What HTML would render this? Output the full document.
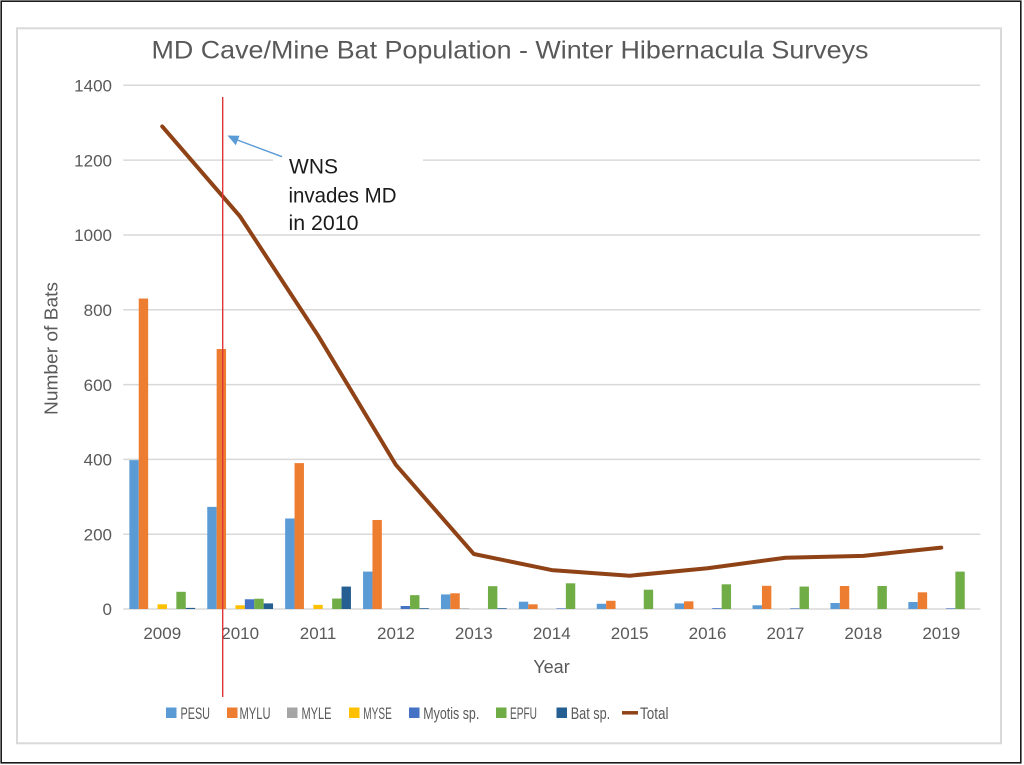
<!DOCTYPE html>
<html>
<head>
<meta charset="utf-8">
<style>
html,body{margin:0;padding:0;background:#fff;}
svg{display:block;}
text{font-family:"Liberation Sans",Arial,sans-serif;}
</style>
</head>
<body>
<svg width="1024" height="765" viewBox="0 0 1024 765" xmlns="http://www.w3.org/2000/svg">
<rect x="0" y="0" width="1024" height="765" fill="#fff"/>
<!-- outer border -->
<rect x="1.2" y="1.2" width="1019.6" height="761.6" fill="none" stroke="#1a1a1a" stroke-width="1.6"/>
<!-- inner chart box -->
<rect x="17" y="28.3" width="984" height="715" fill="none" stroke="#d9d9d9" stroke-width="2"/>

<!-- title -->
<text x="151.5" y="58.3" font-size="25" fill="#595959" textLength="717" lengthAdjust="spacingAndGlyphs">MD Cave/Mine Bat Population - Winter Hibernacula Surveys</text>

<!-- gridlines -->
<g stroke="#d9d9d9" stroke-width="1.5">
<line x1="123.3" y1="85.3" x2="980.3" y2="85.3"/>
<line x1="123.3" y1="160.1" x2="980.3" y2="160.1"/>
<line x1="123.3" y1="235" x2="980.3" y2="235"/>
<line x1="123.3" y1="309.8" x2="980.3" y2="309.8"/>
<line x1="123.3" y1="384.6" x2="980.3" y2="384.6"/>
<line x1="123.3" y1="459.4" x2="980.3" y2="459.4"/>
<line x1="123.3" y1="534.2" x2="980.3" y2="534.2"/>
<line x1="123.3" y1="609" x2="980.3" y2="609"/>
</g>

<!-- y tick labels -->
<g font-size="17" fill="#595959" text-anchor="end">
<text x="112" y="91.5">1400</text>
<text x="112" y="166.3">1200</text>
<text x="112" y="241.2">1000</text>
<text x="112" y="316">800</text>
<text x="112" y="390.8">600</text>
<text x="112" y="465.6">400</text>
<text x="112" y="540.4">200</text>
<text x="112" y="615.2">0</text>
</g>

<!-- y axis title -->
<text transform="translate(57.5,348.5) rotate(-90)" x="0" y="0" font-size="18" fill="#595959" text-anchor="middle" textLength="133" lengthAdjust="spacingAndGlyphs">Number of Bats</text>

<!-- x tick labels -->
<g font-size="17" fill="#595959" text-anchor="middle">
<text x="162.25" y="639">2009</text>
<text x="240.15" y="639">2010</text>
<text x="318.05" y="639">2011</text>
<text x="395.95" y="639">2012</text>
<text x="473.85" y="639">2013</text>
<text x="551.75" y="639">2014</text>
<text x="629.65" y="639">2015</text>
<text x="707.55" y="639">2016</text>
<text x="785.45" y="639">2017</text>
<text x="863.35" y="639">2018</text>
<text x="941.25" y="639">2019</text>
</g>
<text x="551.5" y="673" font-size="18" fill="#595959" text-anchor="middle">Year</text>

<!-- bars -->
<g fill="#5b9bd5">
<rect x="129.35" y="460.12" width="9.4" height="148.88"/>
<rect x="207.25" y="506.88" width="9.4" height="102.12"/>
<rect x="285.15" y="518.48" width="9.4" height="90.52"/>
<rect x="363.05" y="571.59" width="9.4" height="37.41"/>
<rect x="440.95" y="594.41" width="9.4" height="14.59"/>
<rect x="518.85" y="601.71" width="9.4" height="7.29"/>
<rect x="596.75" y="603.76" width="9.4" height="5.24"/>
<rect x="674.65" y="603.39" width="9.4" height="5.61"/>
<rect x="752.55" y="605.26" width="9.4" height="3.74"/>
<rect x="830.45" y="603.01" width="9.4" height="5.99"/>
<rect x="908.35" y="602.0" width="9.4" height="7.0"/>
</g>
<g fill="#ed7d31">
<rect x="138.75" y="298.52" width="9.4" height="310.48"/>
<rect x="216.65" y="349.02" width="9.4" height="259.98"/>
<rect x="294.55" y="463.11" width="9.4" height="145.89"/>
<rect x="372.45" y="519.97" width="9.4" height="89.03"/>
<rect x="450.35" y="593.29" width="9.4" height="15.71"/>
<rect x="528.25" y="604.32" width="9.4" height="4.68"/>
<rect x="606.15" y="600.77" width="9.4" height="8.23"/>
<rect x="684.05" y="601.33" width="9.4" height="7.67"/>
<rect x="761.95" y="585.81" width="9.4" height="23.19"/>
<rect x="839.85" y="585.99" width="9.4" height="23.01"/>
<rect x="917.75" y="592.32" width="9.4" height="16.68"/>
</g>
<g fill="#a5a5a5">
<rect x="459.75" y="608.4" width="9.4" height="0.6"/>
</g>
<g fill="#ffc000">
<rect x="157.55" y="604.32" width="9.4" height="4.68"/>
<rect x="235.45" y="605.26" width="9.4" height="3.74"/>
<rect x="313.35" y="604.89" width="9.4" height="4.11"/>
</g>
<g fill="#4472c4">
<rect x="244.85" y="599.27" width="9.4" height="9.73"/>
<rect x="400.65" y="606.01" width="9.4" height="2.99"/>
<rect x="556.45" y="608.4" width="9.4" height="0.6"/>
<rect x="712.25" y="608.2" width="9.4" height="0.8"/>
<rect x="790.15" y="608.4" width="9.4" height="0.6"/>
<rect x="945.95" y="608.4" width="9.4" height="0.6"/>
</g>
<g fill="#70ad47">
<rect x="176.35" y="591.79" width="9.4" height="17.21"/>
<rect x="254.25" y="598.71" width="9.4" height="10.29"/>
<rect x="332.15" y="598.53" width="9.4" height="10.47"/>
<rect x="410.05" y="595.16" width="9.4" height="13.84"/>
<rect x="487.95" y="586.18" width="9.4" height="22.82"/>
<rect x="565.85" y="583.30" width="9.4" height="25.70"/>
<rect x="643.75" y="589.70" width="9.4" height="19.30"/>
<rect x="721.65" y="584.31" width="9.4" height="24.69"/>
<rect x="799.55" y="586.56" width="9.4" height="22.44"/>
<rect x="877.45" y="585.99" width="9.4" height="23.01"/>
<rect x="955.35" y="571.59" width="9.4" height="37.41"/>
</g>
<g fill="#255e91">
<rect x="185.75" y="607.88" width="9.4" height="1.12"/>
<rect x="263.65" y="603.39" width="9.4" height="5.61"/>
<rect x="341.55" y="586.56" width="9.4" height="22.44"/>
<rect x="419.45" y="608.25" width="9.4" height="0.75"/>
<rect x="497.35" y="608.25" width="9.4" height="0.75"/>
</g>

<!-- Total line -->
<polyline fill="none" stroke="#8f4216" stroke-width="4" stroke-linejoin="round" stroke-linecap="round"
 points="162.25,126.45 240.15,216.6 318.05,335.55 395.95,464.98 473.85,554.01 551.75,570.1 629.65,575.71 707.55,568.23 785.45,557.75 863.35,555.88 941.25,547.65"/>

<!-- red WNS line -->
<line x1="222.7" y1="97" x2="222.7" y2="697" stroke="#e0363a" stroke-width="1.4"/>

<!-- annotation box and text -->
<rect x="273" y="142" width="150" height="90" fill="#fff"/>
<g font-size="21" fill="#1a1a1a">
<text x="289" y="173.3" textLength="49" lengthAdjust="spacingAndGlyphs">WNS</text>
<text x="288.5" y="202.5" textLength="108" lengthAdjust="spacingAndGlyphs">invades MD</text>
<text x="288.5" y="230" textLength="70" lengthAdjust="spacingAndGlyphs">in 2010</text>
</g>
<line x1="282" y1="156.7" x2="236" y2="139.5" stroke="#5b9bd5" stroke-width="1.4"/>
<polygon points="227.5,135.5 239.5,135.8 235.8,145.2" fill="#5b9bd5"/>

<!-- legend -->
<g font-size="16.5" fill="#595959">
<rect x="166" y="707.5" width="10.5" height="10.5" fill="#5b9bd5"/>
<text x="180.5" y="719" textLength="29.5" lengthAdjust="spacingAndGlyphs">PESU</text>
<rect x="227" y="707.5" width="10.5" height="10.5" fill="#ed7d31"/>
<text x="239.5" y="719" textLength="31" lengthAdjust="spacingAndGlyphs">MYLU</text>
<rect x="287" y="707.5" width="10.5" height="10.5" fill="#a5a5a5"/>
<text x="301.5" y="719" textLength="30" lengthAdjust="spacingAndGlyphs">MYLE</text>
<rect x="349" y="707.5" width="10.5" height="10.5" fill="#ffc000"/>
<text x="363.3" y="719" textLength="28.5" lengthAdjust="spacingAndGlyphs">MYSE</text>
<rect x="409" y="707.5" width="10.5" height="10.5" fill="#4472c4"/>
<text x="423.3" y="719" textLength="56" lengthAdjust="spacingAndGlyphs">Myotis sp.</text>
<rect x="496" y="707.5" width="10.5" height="10.5" fill="#70ad47"/>
<text x="510" y="719" textLength="27" lengthAdjust="spacingAndGlyphs">EPFU</text>
<rect x="556.5" y="707.5" width="10.5" height="10.5" fill="#255e91"/>
<text x="570.7" y="719" textLength="39.5" lengthAdjust="spacingAndGlyphs">Bat sp.</text>
<line x1="622" y1="712.8" x2="638" y2="712.8" stroke="#8f4216" stroke-width="3.5"/>
<text x="640" y="719" textLength="28.5" lengthAdjust="spacingAndGlyphs">Total</text>
</g>
</svg>
</body>
</html>
